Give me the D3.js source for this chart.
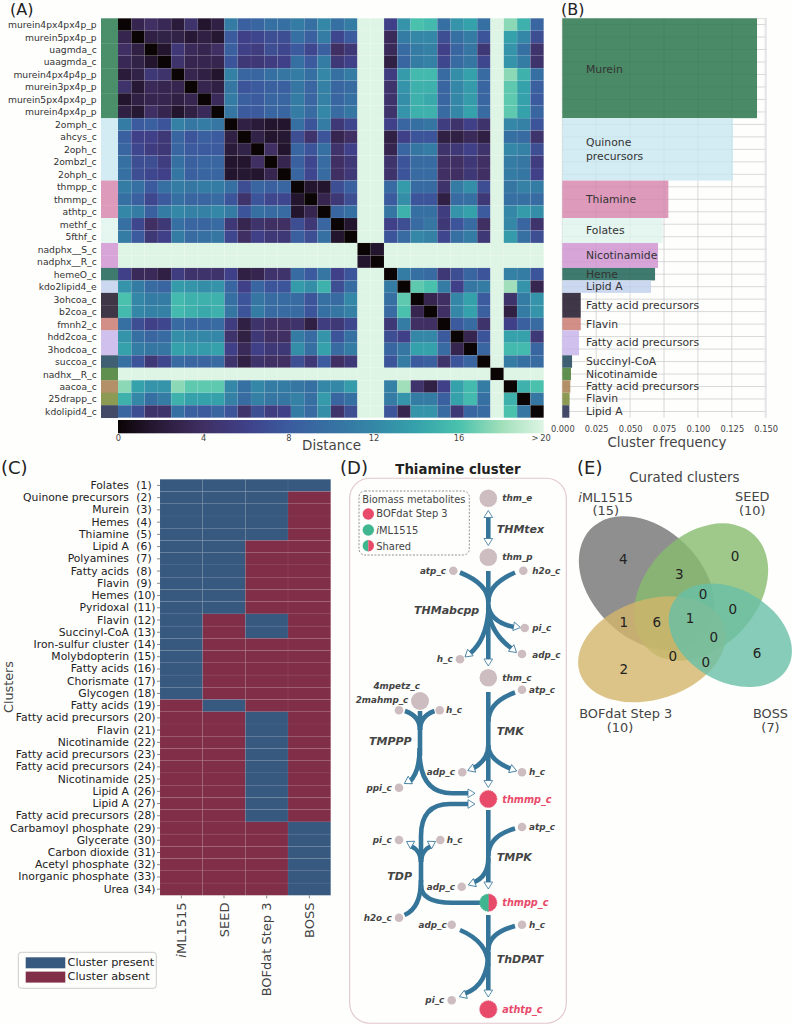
<!DOCTYPE html>
<html><head><meta charset="utf-8">
<script src="https://cdn.jsdelivr.net/npm/d3@7"></script>
<style>
html,body{margin:0;padding:0;background:#fefefd}
svg{display:block}
text{font-family:"DejaVu Sans",sans-serif}
</style></head><body>
<svg id="c" width="792" height="1024"></svg>
<script>
// ---------- Panel A data ----------
const metabolites=["murein4px4px4p_p","murein5px4p_p","uagmda_c","uaagmda_c","murein4px4p4p_p","murein3px4p_p","murein5px4px4p_p","murein4px4p_p","2omph_c","ahcys_c","2oph_c","2ombzl_c","2ohph_c","thmpp_c","thmmp_c","athtp_c","methf_c","5fthf_c","nadphx__S_c","nadphx__R_c","hemeO_c","kdo2lipid4_e","3ohcoa_c","b2coa_c","fmnh2_c","hdd2coa_c","3hodcoa_c","succoa_c","nadhx__R_c","aacoa_c","25drapp_c","kdolipid4_c"];
const distanceUpper=[
[0,3,4,3.3,2,4.5,1.5,2.5,11,8.5,9,10,10,11,10,12,10,11,20,20,6,13,16,15.5,10,13,14,10,20,17.5,15,9],
[0,2.5,2.7,2.7,1.8,2.5,1.7,8,6,6.5,7,7,10,8.5,11,6.5,8,20,20,3.5,11,12,12,7,10,11,7.5,20,14,12,7],
[0,1.5,5,3.5,3,4,8.5,6,5.5,7,6.5,8,6.5,8.5,4,5,20,20,3.5,9.5,11,11.5,6,9,10.5,5,20,13,10,4.5],
[0,4.5,3,3,3,7.5,5,5,5.5,6,10,8,11,5,6,20,20,2.5,9,11,11.5,6.5,9.5,10.5,6.5,20,13,11,4.5],
[0,3,2.5,1.5,11.5,9,9,10,10.5,11,10,12,10,11,20,20,5.5,13.5,15.5,15.5,9.5,12.5,14,9.5,20,17.5,15,10],
[0,3,2.5,10.5,7.5,8,8.5,8.5,10.5,9,11.5,9,9.5,20,20,4.5,13,15,15,9,12,13.5,9,20,16.5,14,8.5],
[0,3.5,11,8.5,8,9,9,11,9,11.5,9,10,20,20,4.5,12.5,15,14.5,9,12,13.5,9,20,16.5,14,8],
[0,10.5,8,8,9,9,11,9.5,12,9.5,10.5,20,20,4.5,13,15,15,9.5,12,14,9.5,20,16.5,14,9],
[0,2.5,2,1.5,1.5,10,7.5,11,5,6.5,20,20,6,9,10,10.5,5.5,4.5,6,4.5,20,12,11.5,7.5],
[0,2.7,1.5,1.7,7,4.5,7.5,3,4,20,20,2.5,6,7.5,7.5,2.5,2.5,3.5,2.5,20,10,9.5,4.5],
[0,4,1.5,9,7.5,10,4.5,6,20,20,3,9,10.5,11,4.5,5,6,4.5,20,12,11.5,7],
[0,3,8.5,6.5,9.5,4,5,20,20,4.5,7.5,9.5,9.5,4,4,5,4,20,11,10.5,5.5],
[0,9,6.5,9.5,4,5,20,20,4.5,7.5,9.5,9.5,4,4,5,4,20,11,10.5,6],
[0,1.5,1.5,7,8.5,20,20,9.5,13.5,9.5,9.5,4.5,11,12.5,7,20,10.5,11.5,11],
[0,3,5,7,20,20,8,12.5,7.5,7.5,2.5,9.5,10,5,20,10,10,9.5],
[0,9,10,20,20,10.5,15,10,10,5.5,13,14,8,20,12,13.5,12.5],
[0,1.5,20,20,6,7,9.5,10.5,5,7.5,9.5,4,20,12,9,4.5],
[0,20,20,7.5,9.5,12,11.5,6.5,10,11,5,20,13.5,10,7],
[0,1.5,20,20,20,20,20,20,20,20,20,20,20,20],
[0,20,20,20,20,20,20,20,20,20,20,20,20],
[0,11,10,9.5,5,7,9,7.5,20,11.5,11,7.5],
[0,16.5,16,11,6,10.5,11,20,18,13,3],
[0,3,4,12,14,8,20,4.5,11,13],
[0,4,12,14,8.5,20,2.5,11,13],
[0,8,9.5,4.5,20,6,8.5,9.5],
[0,3,7.5,20,14,14,5],
[0,9,20,15.5,15.5,9],
[0,20,11,10,9.5],
[0,20,20,20],
[0,15,16],
[0,10.5],
[0]];
const colorbarTicks=[0,4,8,12,16,20];
const colorbarTickLabels=["0","4","8","12","16",">\u200920"];
const makoStops=["#0b0405","#2a1b3a","#3f2f63","#3f4088","#3b5b9e","#3670a2","#3487a6","#35a1ab","#49c1ad","#a0dfb9","#def5e5"];

// ---------- Panel B data ----------
const clusterNames=["Murein",["Quinone","precursors"],"Thiamine","Folates","Nicotinamide","Heme","Lipid A","Fatty acid precursors","Flavin","Fatty acid precursors","Succinyl-CoA","Nicotinamide","Fatty acid precursors","Flavin","Lipid A"];
const clusterSizes=[8,5,3,2,2,1,1,2,1,2,1,1,1,1,1];
const clusterFrequency=[0.1436,0.1259,0.0782,0.074,0.0706,0.0684,0.0654,0.0136,0.0136,0.0123,0.0072,0.0064,0.0059,0.0054,0.0052];
const clusterColors=["#4a8f6a","#d3ebf2","#dd9abb","#e5f5f0","#d8a5d8","#3f7a6e","#cbd8f0","#3f3648","#d18f88","#cfc0ee","#3f5f72","#60904f","#b49068","#8d9a54","#434a68"];
const freqTicks=[0,0.025,0.05,0.075,0.1,0.125,0.15];

// ---------- Panel C data ----------
const curatedClusters=["Folates","Quinone precursors","Murein","Hemes","Thiamine","Lipid A","Polyamines","Fatty acids","Flavin","Hemes","Pyridoxal","Flavin","Succinyl-CoA","Iron-sulfur cluster","Molybdopterin","Fatty acids","Chorismate","Glycogen","Fatty acids","Fatty acid precursors","Flavin","Nicotinamide","Fatty acid precursors","Fatty acid precursors","Nicotinamide","Lipid A","Lipid A","Fatty acid precursors","Carbamoyl phosphate","Glycerate","Carbon dioxide","Acetyl phosphate","Inorganic phosphate","Urea"];
const methods=["iML1515","SEED","BOFdat Step 3","BOSS"];
const presence=[[1,1,1,1],[1,1,1,0],[1,1,1,0],[1,1,1,0],[1,1,1,0],[1,1,0,0],[1,1,0,0],[1,1,0,0],[1,1,0,0],[1,1,0,0],[1,1,0,0],[1,0,1,0],[1,0,1,0],[1,0,0,0],[1,0,0,0],[1,0,0,0],[1,0,0,0],[1,0,0,0],[0,1,0,0],[0,0,1,0],[0,0,1,0],[0,0,1,0],[0,0,1,0],[0,0,1,0],[0,0,1,0],[0,0,1,0],[0,0,1,0],[0,0,1,0],[0,0,0,1],[0,0,0,1],[0,0,0,1],[0,0,0,1],[0,0,0,1],[0,0,0,1]];
const presenceLabels=["Cluster present","Cluster absent"];
const presenceColors=["#37597f","#812f48"];

// ---------- Panel D layout ----------
const TEAL="#35759a", RED="#e84a6a", GREEN="#3fb68f", NODE="#cdbdc0";
const bigNodes=[["thm_e",488.3,498.3,"l"],["thm_p",488.3,557.3,"l"],["thm_c",488.3,677.7,"l"]];
const smallNodes=[
["atp_c",453.3,570.7,446,570.7,"end"],["h2o_c",523.3,570.7,532.3,570.7,"start"],["pi_c",524.7,628,532.3,627.5,"start"],["adp_c",522,654,532.3,655,"start"],["h_c",460,659.3,452.7,659,"end"],
["atp_c",522,689.7,529,689.5,"start"],["2mahmp_c",399,710.3,408.3,700,"end"],["h_c",439.7,710.3,446,710,"start"],
["adp_c",462.3,772.3,455,772.3,"end"],["h_c",522,772.3,529,772.3,"start"],["ppi_c",399,787.7,391.7,788,"end"],
["atp_c",522,827,529,827,"start"],["pi_c",399,840,391.7,840,"end"],["h_c",440.3,840,446.7,840,"start"],["adp_c",461.7,886.7,455,886.7,"end"],
["h2o_c",399,917.7,391.7,917.5,"end"],["adp_c",451.7,924.7,446.7,924.7,"end"],["h_c",522,924.7,529,924.7,"start"],["pi_c",451.7,1000.3,444.3,1000.3,"end"]];
const reactions=[["THMtex",496.7,529],["THMabcpp",414,610.7],["TMK",496.7,731.7],["TMPPP",369,741],["TDP",387.3,876.7],["TMPK",496.7,857.7],["ThDPAT",496.7,959.3]];
const edges=[
"M488.3 516V540",
"M488.3 571V660",
"M460 572.5Q488.3 584 488.3 602",
"M515 572.5Q488.3 584 488.3 602",
"M488.3 605Q490 622 514 627",
"M488.3 612Q492 634 511 648",
"M488.3 612Q486 640 470 653.5",
"M488.3 692V782",
"M515 692.5Q488.3 702 488.3 722",
"M488.3 745Q488.3 760 473 768.5",
"M488.3 745Q488.3 760 511.5 769",
"M420 711V756",
"M405 711Q420 716 420 730",
"M434.5 711Q420 716 420 730",
"M419.5 748Q420 772 409 782.5",
"M419.5 752Q420 793.3 452 793.3H469",
"M469 804H450Q421 804 421 836V893",
"M411 846Q421 851 421 862",
"M431 846Q421 851 421 862",
"M404.5 915Q421 908 421 880",
"M421 885Q421 902.7 452 902.7H480",
"M488.3 810V884",
"M515 828.5Q488.3 836 488.3 856",
"M473 882.5Q488.3 877 488.3 858",
"M488.3 915V992",
"M460 930Q488.3 942 488.3 966",
"M515 926Q488.3 933 488.3 950",
"M465 993.5Q488.3 985 488.3 952"];
const arrows=[[488.3,510.5,-90],[488.3,545.5,90],[488.3,666,90],[520.5,627.5,10],[516.5,652.5,40],[465,657,140],[488.3,787.5,90],[467.7,770.5,160],[516.7,771,20],[404.3,783.5,150],[475,793.3,0],[475,804,0],[406.5,841.5,-150],[435.5,841.5,-30],[488.3,889,90],[468.3,885,160],[488.3,997,90],[459.3,996.7,160]];

// ---------- Panel E data ----------
const vennSets=[
{name:"iML1515",size:15,cx:646.7,cy:583.3,a:78,b:55,rot:44,fill:"#737373"},
{name:"SEED",size:10,cx:701,cy:592,a:78,b:56,rot:-47,fill:"#87bb6d"},
{name:"BOFdat Step 3",size:10,cx:652,cy:649.3,a:76,b:50,rot:-18,fill:"#d3b56a"},
{name:"BOSS",size:7,cx:730.3,cy:635.3,a:66,b:46,rot:30,fill:"#68bfa6"}];
const vennCounts=[[4,623.3,559.3],[3,679.3,574],[0,735,556],[0,703,594.3],[0,732.7,608.7],[1,623.7,622.3],[6,656.7,621.7],[1,690,618.3],[0,713.7,636.7],[6,757,653.3],[0,672.7,656],[0,705.7,662.3],[2,623.7,669.3]];

// ================== drawing ==================
const svg=d3.select("#c");
const INK="#333";
function txt(g,x,y,s,size,opt={}){
  const t=g.append("text").attr("x",x).attr("y",y).attr("font-size",size).attr("fill",opt.fill||INK)
    .attr("text-anchor",opt.anchor||"start").attr("dominant-baseline","central");
  if(opt.weight)t.attr("font-weight",opt.weight);
  if(opt.style)t.attr("font-style",opt.style);
  if(opt.rotate!==undefined)t.attr("transform",`rotate(${opt.rotate} ${x} ${y})`);
  t.text(s);return t;
}
function italicI(t,s){ // text whose leading i is italic
  t.text(null);t.append("tspan").attr("font-style","italic").text(s[0]);t.append("tspan").text(s.slice(1));
}
[["(A)",10,9.5,16],["(B)",561,9.5,16],["(C)",1,467,18],["(D)",340,467,18],["(E)",577,467,18]].forEach(d=>txt(svg,d[1],d[2],d[0],d[3],{fill:"#222"}));

// Panel A
const n=metabolites.length;
const dist=d3.range(n).map(()=>new Array(n));
distanceUpper.forEach((r,i)=>r.forEach((v,k)=>{dist[i][i+k]=v;dist[i+k][i]=v;}));
const heatColor=d3.scaleLinear().domain(d3.range(11).map(i=>i*2)).range(makoStops).clamp(true);
const ax=d3.scaleBand().domain(d3.range(n)).range([118,543.7]);
const ay=d3.scaleBand().domain(d3.range(n)).range([18.3,417.7]);
const rowCluster=clusterSizes.flatMap((s,i)=>d3.range(s).map(()=>i));
const gA=svg.append("g");
dist.forEach((r,i)=>r.forEach((v,j)=>gA.append("rect").attr("x",ax(j)).attr("y",ay(i)).attr("width",ax.bandwidth()).attr("height",ay.bandwidth())
  .attr("fill",heatColor(v)).attr("stroke","#fff").attr("stroke-opacity",0.09).attr("stroke-width",0.6)));
gA.selectAll(".s").data(rowCluster).enter().append("rect").attr("x",101).attr("width",17).attr("y",(d,i)=>ay(i)).attr("height",ay.bandwidth()+0.3).attr("fill",d=>clusterColors[d]);
metabolites.forEach((m,i)=>txt(gA,96.7,ay(i)+ay.bandwidth()/2,m,9.2,{anchor:"end"}));
const defs=svg.append("defs");
const grad=defs.append("linearGradient").attr("id","cb");
makoStops.forEach((c,i)=>grad.append("stop").attr("offset",i/10).attr("stop-color",c));
const cbx=d3.scaleLinear().domain([0,20]).range([118,543.7]);
gA.append("rect").attr("x",118).attr("y",420).attr("width",425.7).attr("height",13.3).attr("fill","url(#cb)");
const gCb=gA.append("g").attr("transform","translate(0,433)").call(d3.axisBottom(cbx).tickValues(colorbarTicks).tickSize(0).tickPadding(2).tickFormat((d,i)=>colorbarTickLabels[i]));
gCb.select(".domain").remove();
gCb.selectAll("text").attr("font-size",8.3).attr("fill","#444").attr("font-family","DejaVu Sans");
gCb.select(".tick:last-of-type text").attr("dx",-3);
txt(gA,331.5,444.5,"Distance",13.5,{anchor:"middle",fill:"#444"});

// Panel B
const bx=d3.scaleLinear().domain([0,0.15]).range([562.3,765.7]);
const gB=svg.append("g");
const rowMid=i=>ay(i)+ay.bandwidth()/2;
function bGrid(g,color,opacity){
  d3.range(n).forEach(i=>g.append("line").attr("x1",562.3).attr("x2",767).attr("y1",rowMid(i)).attr("y2",rowMid(i)).attr("stroke",color).attr("stroke-opacity",opacity).attr("stroke-width",.9));
  freqTicks.slice(0,-1).forEach(t=>g.append("line").attr("x1",bx(t)).attr("x2",bx(t)).attr("y1",18.3).attr("y2",417.7).attr("stroke",color).attr("stroke-opacity",opacity).attr("stroke-width",.9));
}
bGrid(gB,"#dcdcdc",1);
gB.append("line").attr("x1",bx(0.15)).attr("x2",bx(0.15)).attr("y1",18.3).attr("y2",417.7).attr("stroke","#e8e6ea").attr("stroke-width",2.4);
gB.append("line").attr("x1",562.3).attr("x2",767).attr("y1",18.6).attr("y2",18.6).attr("stroke","#dcdcdc").attr("stroke-width",.9);
let cum=0;
const clusterSpans=clusterSizes.map(s=>{const y0=ay(cum),h=s*ay.step();cum+=s;return [y0,h];});
clusterSizes.forEach((s,i)=>{
  const [y0,h]=clusterSpans[i];
  gB.append("rect").attr("x",bx(0)).attr("y",y0).attr("width",bx(clusterFrequency[i])-bx(0)).attr("height",h).attr("fill",i==0?"#4a8a66":clusterColors[i]);
});
bGrid(gB,"#000",0.035);
clusterSizes.forEach((s,i)=>{
  const [y0,h]=clusterSpans[i];
  const nm=clusterNames[i];
  if(Array.isArray(nm)){nm.forEach((l,k)=>txt(gB,586,y0+h/2+(k-.5)*14,l,10.8));}
  else txt(gB,586,y0+h/2+(i==0?1.5:0),nm,10.8);
});
const gBa=gB.append("g").attr("transform","translate(0,417.7)").call(d3.axisBottom(bx).tickValues(freqTicks).tickSize(0).tickPadding(8).tickFormat(d3.format(".3f")));
gBa.select(".domain").remove();
gBa.selectAll("text").attr("font-size",8.3).attr("fill","#444").attr("font-family","DejaVu Sans");
txt(gB,667,442,"Cluster frequency",13.4,{anchor:"middle",fill:"#444"});

// Panel C
const cx=d3.scaleBand().domain(methods).range([160,330.7]);
const cy=d3.scaleBand().domain(d3.range(curatedClusters.length)).range([479.3,895.3]);
const gC=svg.append("g");
presence.forEach((r,i)=>r.forEach((v,j)=>gC.append("rect").attr("x",cx(methods[j])).attr("y",cy(i)).attr("width",cx.bandwidth()).attr("height",cy.bandwidth())
  .attr("fill",presenceColors[v?0:1]).attr("stroke","#fff").attr("stroke-opacity",.06).attr("stroke-width",.6)));
const gCy=gC.append("g").attr("transform","translate(160,0)").call(d3.axisLeft(cy).tickSize(3).tickFormat(""));
gCy.select(".domain").remove();gCy.selectAll("line").attr("stroke","#888");
curatedClusters.forEach((c,i)=>{
  const y=cy(i)+cy.bandwidth()/2;
  txt(gC,129,y,c,10.8,{anchor:"end",fill:"#222"});
  txt(gC,i<9?144:144.5,y,`(${i+1})`,10.8,{anchor:"middle",fill:"#222"});
});
const gCx=gC.append("g").attr("transform","translate(0,895.3)").call(d3.axisBottom(cx).tickSize(3).tickFormat(""));
gCx.select(".domain").remove();gCx.selectAll("line").attr("stroke","#888");
methods.forEach(m=>{
  const t=txt(gC,cx(m)+cx.bandwidth()/2,902.5,m,13,{anchor:"end",rotate:-90,fill:"#444"});
  if(m==="iML1515")italicI(t,m);
});
txt(gC,8,687,"Clusters",12.8,{anchor:"middle",rotate:-90,fill:"#444"});
gC.append("rect").attr("x",18.3).attr("y",952.3).attr("width",138).attr("height",36).attr("rx",3).attr("fill","none").attr("stroke","#ccc");
presenceLabels.forEach((l,i)=>{
  gC.append("rect").attr("x",25.7).attr("y",957.3+i*14.3).attr("width",39.6).attr("height",11).attr("fill",presenceColors[i]);
  txt(gC,67.5,962.8+i*13.8,l,11.3,{fill:"#222"});
});

// Panel D
const gD=svg.append("g");
gD.append("rect").attr("x",349.7).attr("y",478.3).attr("width",216.6).attr("height",545).attr("rx",20).attr("fill","none").attr("stroke","#e2c6d0").attr("stroke-width",1.1);
txt(gD,458,469,"Thiamine cluster",13.3,{anchor:"middle",weight:"bold",fill:"#222"});
gD.append("rect").attr("x",359).attr("y",491).attr("width",110.3).attr("height",64).attr("rx",6).attr("fill","none").attr("stroke","#777").attr("stroke-width",.8).attr("stroke-dasharray","2,1.5");
txt(gD,362.3,499,"Biomass metabolites",9.9,{fill:"#444"});
edges.forEach(d=>gD.append("path").attr("d",d).attr("fill","none").attr("stroke",TEAL).attr("stroke-width",4.6));
const tri=d3.path();tri.moveTo(0,0);tri.lineTo(-7,-4.3);tri.lineTo(-7,4.3);tri.closePath();
arrows.forEach(a=>gD.append("path").attr("d",tri.toString()).attr("transform",`translate(${a[0]},${a[1]}) rotate(${a[2]})`).attr("fill","#fff").attr("stroke",TEAL).attr("stroke-width",.8));
const nodeLab=(x,y,s,o={})=>txt(gD,x,y,s,o.size||8.8,{weight:"bold",style:"italic",fill:o.fill||"#444",anchor:o.anchor||"start"});
bigNodes.forEach(b=>{gD.append("circle").attr("cx",b[1]).attr("cy",b[2]).attr("r",8.8).attr("fill",NODE);nodeLab(b[1]+14,b[2],b[0]);});
gD.append("circle").attr("cx",420).attr("cy",701).attr("r",9).attr("fill",NODE);
nodeLab(396.7,686,"4mpetz_c",{anchor:"middle"});
smallNodes.forEach(s=>{gD.append("circle").attr("cx",s[1]).attr("cy",s[2]).attr("r",4.3).attr("fill",NODE);nodeLab(s[3],s[4],s[0],{anchor:s[5]});});
const dashed=(sel,c)=>sel.attr("fill",c).attr("stroke",c).attr("stroke-width",.9).attr("stroke-dasharray","1.2,1");
[[488.3,799,"thmmp_c"],[488.3,1009.3,"athtp_c"]].forEach(p=>{
  dashed(gD.append("circle").attr("cx",p[0]).attr("cy",p[1]).attr("r",8.6),RED);
  nodeLab(502.3,p[1],p[2],{fill:RED,size:9.7});
});
const semi=d3.arc().innerRadius(0).outerRadius(8.6);
dashed(gD.append("path").attr("d",semi({startAngle:0,endAngle:Math.PI})).attr("transform","translate(488.3,902.7)"),RED);
dashed(gD.append("path").attr("d",semi({startAngle:Math.PI,endAngle:2*Math.PI})).attr("transform","translate(488.3,902.7)"),GREEN);
nodeLab(502.3,902,"thmpp_c",{fill:RED,size:9.7});
reactions.forEach(r=>nodeLab(r[1],r[2],r[0],{size:11}));
// D legend
const lr=5.7;
gD.append("circle").attr("cx",368.3).attr("cy",514).attr("r",lr).attr("fill",RED);
gD.append("circle").attr("cx",368.3).attr("cy",530).attr("r",lr).attr("fill",GREEN);
gD.append("path").attr("d",d3.arc().innerRadius(0).outerRadius(lr)({startAngle:Math.PI,endAngle:2*Math.PI})).attr("transform","translate(368.3,545.7)").attr("fill",GREEN);
gD.append("path").attr("d",d3.arc().innerRadius(0).outerRadius(lr)({startAngle:0,endAngle:Math.PI})).attr("transform","translate(368.3,545.7)").attr("fill",RED);
txt(gD,376.3,513.5,"BOFdat Step 3",9.9,{fill:"#444"});
italicI(txt(gD,376.3,530,"iML1515",9.9,{fill:"#444"}),"iML1515");
txt(gD,376.3,546,"Shared",9.9,{fill:"#444"});

// Panel E
const gE=svg.append("g");
txt(gE,684.3,477.3,"Curated clusters",13.4,{anchor:"middle",fill:"#444"});
vennSets.forEach(s=>gE.append("ellipse").attr("cx",s.cx).attr("cy",s.cy).attr("rx",s.a).attr("ry",s.b).attr("transform",`rotate(${s.rot} ${s.cx} ${s.cy})`).attr("fill",s.fill).attr("fill-opacity",.8));
vennCounts.forEach(c=>txt(gE,c[1],c[2],c[0],13.5,{anchor:"middle",fill:"#222"}));
const setLabelPos=[[605.7,496.5,510.5],[752.3,496.5,510.5],[625.7,713,727.5],[770.5,713,727.5]];
const setCountX=[605.7,752.3,620,770.5];
vennSets.forEach((s,i)=>{
  const p=setLabelPos[i];
  const t=txt(gE,p[0],p[1],s.name,12.9,{anchor:"middle",fill:"#444"});
  if(s.name==="iML1515")italicI(t,s.name);
  txt(gE,setCountX[i],p[2],`(${s.size})`,12.9,{anchor:"middle",fill:"#444"});
});
</script>
</body></html>
